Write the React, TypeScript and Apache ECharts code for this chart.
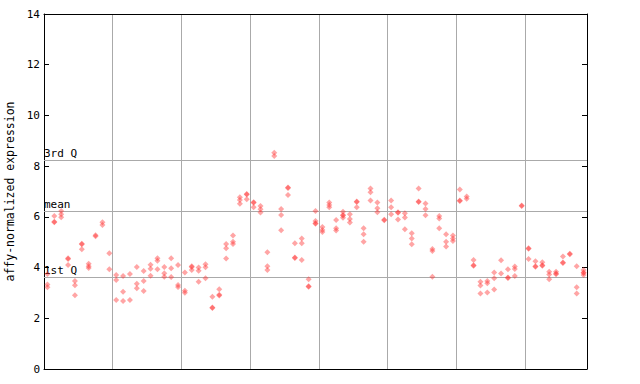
import React, { useEffect, useRef } from "react";
import * as echarts from "echarts";

// Expression values per sample (replicates), 79 samples in 8 blocks
const block1: number[][] = [
  [3.75, 3.33, 3.22], [6.03, 5.81, 5.79], [6.23, 6.1, 5.98], [4.37, 4.34, 4.1],
  [3.47, 3.3, 2.91], [4.94, 4.92, 4.72], [4.15, 4.05, 3.98], [5.27, 5.24],
  [5.79, 5.68], [4.56, 3.93],
];
const block2: number[][] = [
  [3.71, 3.51, 2.72], [3.67, 3.05, 2.68], [3.75, 2.72], [4.02, 3.36, 3.18],
  [3.86, 3.47, 3.08], [4.11, 3.95, 3.68], [4.37, 4.27, 3.93], [4.02, 3.78, 3.64],
  [4.37, 3.97, 3.63], [4.1, 3.31, 3.23],
];
const block3: number[][] = [
  [3.81, 3.09, 3.01], [4.05, 4.02, 3.9], [4.0, 3.87, 3.44], [4.13, 4.01, 3.58],
  [2.85, 2.43, 2.41], [3.15, 2.93, 2.9], [4.93, 4.76, 4.36], [5.26, 5.02, 4.93],
  [6.77, 6.66, 6.52], [6.9, 6.88, 6.69],
];
const block4: number[][] = [
  [6.58, 6.56, 6.38], [6.43, 6.3, 6.17], [4.6, 4.05, 3.9], [8.53, 8.4],
  [6.31, 6.07, 5.47], [7.16, 7.14, 6.86], [4.96, 4.4, 4.38], [5.15, 4.96, 4.3],
  [3.54, 3.26, 3.24], [6.23, 5.84, 5.75, 5.73],
];
const block5: number[][] = [
  [5.6, 5.48, 5.4], [6.57, 6.47, 6.38], [5.88, 5.55, 5.46], [6.2, 6.07, 6.05, 5.96],
  [6.1, 5.92, 5.78], [6.61, 6.59, 6.38], [5.55, 5.31, 5.02], [7.12, 6.97, 6.65],
  [6.57, 6.34, 6.18], [5.89, 5.87],
];
const block6: number[][] = [
  [6.65, 6.38, 6.1], [6.18, 6.16, 5.9], [6.14, 5.97, 5.51], [5.35, 5.15, 4.92],
  [7.12, 6.61, 6.59], [6.53, 6.31, 6.06], [4.73, 4.65, 3.64], [6.03, 5.94, 5.55],
  [5.31, 5.02, 4.83], [5.26, 5.15, 5.05],
];
const block7: number[][] = [
  [7.08, 6.65, 6.63], [6.8, 6.71], [4.3, 4.09, 4.07], [3.44, 3.29, 2.98],
  [3.47, 3.38, 3.02], [3.81, 3.58, 3.14], [4.29, 3.77], [3.93, 3.61, 3.59],
  [4.04, 3.94, 3.67], [6.45, 6.43],
];
const block8: number[][] = [
  [4.76, 4.74, 4.34], [4.25, 4.05, 4.03], [4.21, 4.09, 4.07], [3.84, 3.73, 3.54],
  [3.84, 3.77, 3.74], [4.44, 4.2, 4.18], [4.55, 4.53], [4.05, 3.22, 2.98],
  [3.9, 3.81, 3.79, 3.71],
];

const blocks = [block1, block2, block3, block4, block5, block6, block7, block8];

// Reference lines
const refLines = [
  { name: "3rd Q", value: 8.23 },
  { name: "mean", value: 6.23 },
  { name: "1st Q", value: 3.63 },
];

const yTicks = { min: 0, max: 14, interval: 2 };
const blockSize = 10;

const MONO = "'DejaVu Sans Mono', 'Liberation Mono', monospace";

export default function App() {
  const ref = useRef<HTMLDivElement>(null);

  useEffect(() => {
    if (!ref.current) return;
    const chart = echarts.init(ref.current, undefined, { renderer: "svg" });

    const samples: number[][] = ([] as number[][]).concat(...blocks);
    const nSamples = samples.length;
    const points: number[][] = [];
    samples.forEach((vals, i) => {
      vals.forEach((v) => points.push([i + 0.5, v]));
    });

    chart.setOption({
      animation: false,
      backgroundColor: "#ffffff",
      grid: {
        left: 44,
        right: 53,
        top: 14,
        bottom: 15,
        containLabel: false,
        outerBoundsMode: "none",
      },
      xAxis: [
        {
          type: "value",
          min: 0,
          max: nSamples,
          interval: blockSize,
          axisLine: { show: true, onZero: false, lineStyle: { color: "#000", width: 1 } },
          axisTick: { show: false },
          axisLabel: { show: false },
          splitLine: {
            show: true,
            showMinLine: false,
            showMaxLine: false,
            lineStyle: { color: "#aaaaaa", width: 1 },
          },
        },
        {
          type: "value",
          position: "top",
          min: 0,
          max: nSamples,
          axisLine: { show: true, onZero: false, lineStyle: { color: "#000", width: 1 } },
          axisTick: { show: false },
          axisLabel: { show: false },
          splitLine: { show: false },
        },
      ],
      yAxis: [
        {
          type: "value",
          min: yTicks.min,
          max: yTicks.max,
          interval: yTicks.interval,
          name: "affy-normalized expression",
          nameLocation: "middle",
          nameGap: 27,
          nameTextStyle: { fontFamily: MONO, fontSize: 11.5, color: "#000" },
          axisLine: { show: true, onZero: false, lineStyle: { color: "#000", width: 1 } },
          axisTick: { show: true, inside: true, length: 5, lineStyle: { color: "#000" } },
          axisLabel: { fontFamily: MONO, fontSize: 11, color: "#000", margin: 4 },
          splitLine: { show: false },
        },
        {
          type: "value",
          position: "right",
          min: yTicks.min,
          max: yTicks.max,
          interval: yTicks.interval,
          axisLine: { show: true, onZero: false, lineStyle: { color: "#000", width: 1 } },
          axisTick: { show: true, inside: true, length: 5, lineStyle: { color: "#000" } },
          axisLabel: { show: false },
          splitLine: { show: false },
        },
      ],
      series: [
        {
          type: "scatter",
          xAxisIndex: 0,
          yAxisIndex: 0,
          symbol: "diamond",
          symbolSize: 6,
          itemStyle: { color: "rgba(255, 50, 50, 0.55)" },
          data: points,
          z: 3,
          markLine: {
            silent: true,
            symbol: ["none", "none"],
            z: 2,
            lineStyle: { color: "#aaaaaa", width: 1, type: "solid" },
            label: {
              show: true,
              position: "insideStartTop",
              distance: [0, 1],
              formatter: "{b}",
              fontFamily: MONO,
              fontSize: 11,
              color: "#000",
            },
            data: refLines.map((r) => ({ name: r.name, yAxis: r.value })),
          },
        },
      ],
    });

    return () => chart.dispose();
  }, []);

  return (
    <div
      ref={ref}
      style={{ position: "fixed", left: 0, top: 0, width: 640, height: 384, background: "#fff" }}
    />
  );
}
